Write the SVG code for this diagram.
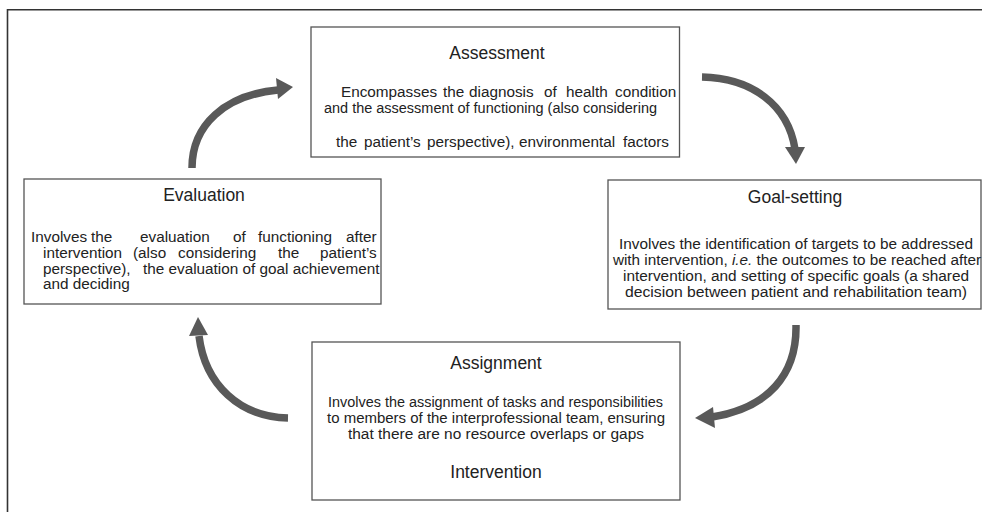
<svg xmlns="http://www.w3.org/2000/svg" width="982" height="512" viewBox="0 0 982 512">
<style>
.box{fill:#fff;stroke:#555;stroke-width:1.3}
.t{font-family:"Liberation Sans",Arial,sans-serif;fill:#222}
.title{font-size:17.5px;text-anchor:middle}
.body{font-size:15.3px}
.mid{text-anchor:middle}
.shaft{fill:none;stroke:#595959;stroke-width:7.5}
.head{fill:#595959}
</style>
<rect width="982" height="512" fill="#fff"/>
<path d="M7.5,512 V9.8 H982" fill="none" stroke="#333" stroke-width="1.6"/>
<g id="connectors">
<path class="shaft" d="M192,168 C192,125 225,95 278,90"/>
<polygon class="head" points="293,87 276,78 278,99"/>
<path class="shaft" d="M702,77 C752,78 788,105 795,149"/>
<polygon class="head" points="796,164 785,147 805,147"/>
<path class="shaft" d="M796,325 C797,375 768,408 712,417"/>
<polygon class="head" points="695,418 713,407 715,428"/>
<path class="shaft" d="M288,418 C240,417 205,385 199,336"/>
<polygon class="head" points="198,317 189,336 208,335"/>
</g>
<g id="assessment">
<rect class="box" x="311" y="27" width="368.5" height="130"/>
<text class="t title" x="497" y="59">Assessment</text>
<text class="t body" y="97"><tspan x="341">Encompasses</tspan><tspan x="443">the</tspan><tspan x="469">diagnosis</tspan><tspan x="544">of</tspan><tspan x="566">health</tspan><tspan x="615">condition</tspan></text>
<text class="t body" x="324" y="113" textLength="333" lengthAdjust="spacingAndGlyphs">and the assessment of functioning (also considering</text>
<text class="t body" y="147"><tspan x="336">the</tspan><tspan x="364">patient’s</tspan><tspan x="427">perspective),</tspan><tspan x="519">environmental</tspan><tspan x="623">factors</tspan></text>
</g>
<g id="goal-setting">
<rect class="box" x="608" y="180" width="373" height="129"/>
<text class="t title" x="795" y="203">Goal-setting</text>
<text class="t body mid" x="796" y="249" textLength="354" lengthAdjust="spacingAndGlyphs">Involves the identification of targets to be addressed</text>
<text class="t body mid" x="797" y="265" font-size="14.5">with intervention, <tspan font-style="italic">i.e.</tspan> the outcomes to be reached after</text>
<text class="t body mid" x="796" y="281" textLength="346" lengthAdjust="spacingAndGlyphs">intervention, and setting of specific goals (a shared</text>
<text class="t body mid" x="796" y="297" textLength="342" lengthAdjust="spacingAndGlyphs">decision between patient and rehabilitation team)</text>
</g>
<g id="assignment">
<rect class="box" x="312" y="342" width="368" height="158"/>
<text class="t title" x="496" y="369">Assignment</text>
<text class="t body mid" x="495.5" y="407" textLength="335" lengthAdjust="spacingAndGlyphs">Involves the assignment of tasks and responsibilities</text>
<text class="t body mid" x="496" y="423" textLength="338" lengthAdjust="spacingAndGlyphs">to members of the interprofessional team, ensuring</text>
<text class="t body mid" x="496" y="439" textLength="296" lengthAdjust="spacingAndGlyphs">that there are no resource overlaps or gaps</text>
<text class="t title" x="496" y="478">Intervention</text>
</g>
<g id="evaluation">
<rect class="box" x="24" y="179" width="357" height="125"/>
<text class="t title" x="204" y="201">Evaluation</text>
<text class="t body" y="242"><tspan x="31">Involves</tspan><tspan x="91">the</tspan><tspan x="140">evaluation</tspan><tspan x="233">of</tspan><tspan x="258">functioning</tspan><tspan x="346">after</tspan></text>
<text class="t body" y="258"><tspan x="43">intervention</tspan><tspan x="133">(also</tspan><tspan x="178">considering</tspan><tspan x="278">the</tspan><tspan x="320">patient’s</tspan></text>
<text class="t body" y="273.5"><tspan x="43">perspective),</tspan><tspan x="143">the evaluation of goal achievement</tspan></text>
<text class="t body" x="43" y="289">and deciding</text>
</g>
</svg>
